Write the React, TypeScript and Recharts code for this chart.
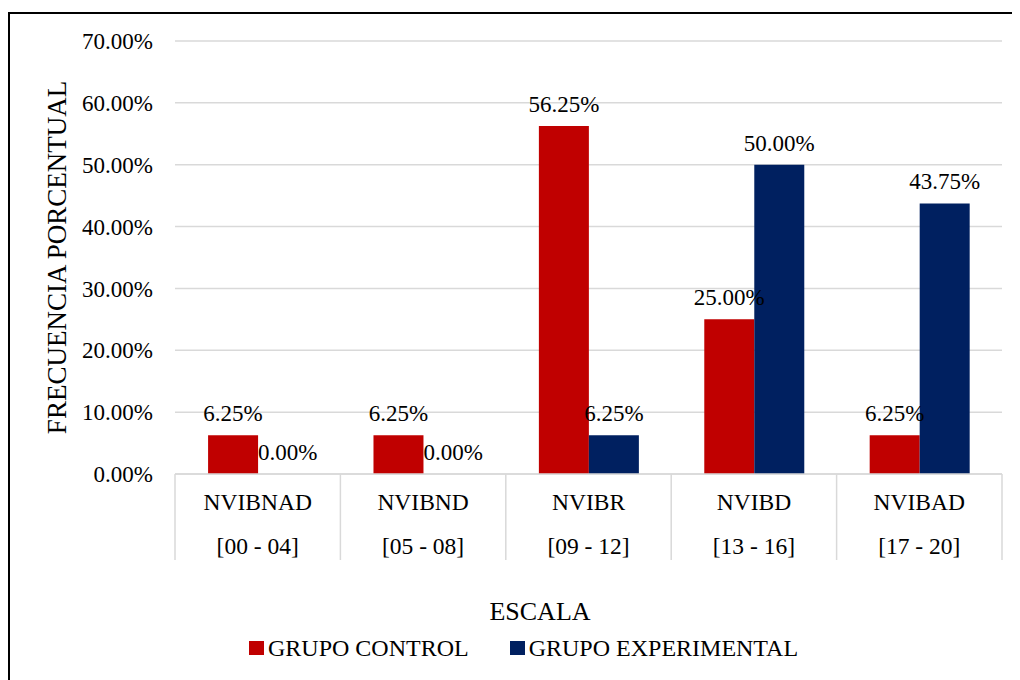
import { BarChart, Bar, XAxis, YAxis, CartesianGrid, Legend, LabelList, ReferenceDot } from "recharts";

const niveles = ["NVIBNAD", "NVIBND", "NVIBR", "NVIBD", "NVIBAD"];
const rangos = ["[00 - 04]", "[05 - 08]", "[09 - 12]", "[13 - 16]", "[17 - 20]"];
const grupoControl = [0.0625, 0.0625, 0.5625, 0.25, 0.0625];
const grupoExperimental = [0, 0, 0.0625, 0.5, 0.4375];
const yTicks = [0, 0.1, 0.2, 0.3, 0.4, 0.5, 0.6, 0.7];

const data = niveles.map((n, i) => ({
  nivel: n,
  rango: rangos[i],
  control: grupoControl[i],
  experimental: grupoExperimental[i],
}));

const FONT = "Liberation Serif, Tinos, DejaVu Serif, serif";
const RED = "#C00000";
const NAVY = "#002060";
const GRID = "#d9d9d9";

const W = 1010;
const H = 666;
const margin = { top: 27, right: 18, left: 0, bottom: 106 };
const Y_AXIS_W = 165;
const band = (W - margin.right - margin.left - Y_AXIS_W) / niveles.length;

const pct = (v: number) => (v * 100).toFixed(2) + "%";
const labelStyle = { fontFamily: FONT, fontSize: 23, fill: "#000" };

function CategoryTick(props: any) {
  const { x, y, payload, index } = props;
  const row = data[index] || { nivel: payload.value, rango: "" };
  return (
    <g>
      <line x1={x - band / 2} y1={y} x2={x - band / 2} y2={y + 86} stroke={GRID} strokeWidth={1.5} />
      {index === niveles.length - 1 && (
        <line x1={x + band / 2} y1={y} x2={x + band / 2} y2={y + 86} stroke={GRID} strokeWidth={1.5} />
      )}
      <text x={x} y={y + 36} textAnchor="middle" fontFamily={FONT} fontSize={23.5} fill="#000">
        {row.nivel}
      </text>
      <text x={x} y={y + 80} textAnchor="middle" fontFamily={FONT} fontSize={23.5} fill="#000">
        {row.rango}
      </text>
    </g>
  );
}

function YTitle(props: any) {
  const vb = props.viewBox || { y: 0, height: 0 };
  const cy = vb.y + vb.height / 2;
  return (
    <text
      x={47}
      y={cy}
      transform={`rotate(-90, 47, ${cy})`}
      textAnchor="middle"
      dominantBaseline="central"
      fontFamily={FONT}
      fontSize={27}
      fill="#000"
    >
      FRECUENCIA PORCENTUAL
    </text>
  );
}

function XTitle() {
  return (
    <text x={530} y={606} textAnchor="middle" fontFamily={FONT} fontSize={26} fill="#000">
      ESCALA
    </text>
  );
}

function LegendBox() {
  const items = [
    { label: "GRUPO CONTROL", color: RED },
    { label: "GRUPO EXPERIMENTAL", color: NAVY },
  ];
  return (
    <div style={{ display: "flex", alignItems: "center", paddingLeft: 239, fontFamily: FONT, fontSize: 24, color: "#000" }}>
      {items.map((it, i) => (
        <div key={it.label} style={{ display: "flex", alignItems: "center", marginRight: i === 0 ? 41 : 0 }}>
          <span style={{ display: "inline-block", width: 15, height: 14, background: it.color, marginRight: 4 }} />
          <span style={{ lineHeight: "24px" }}>{it.label}</span>
        </div>
      ))}
    </div>
  );
}

export default function App() {
  return (
    <div
      style={{
        marginTop: 4,
        width: W,
        height: H,
        borderTop: "2px solid #000",
        borderLeft: "2px solid #000",
        background: "#fff",
      }}
    >
      <BarChart width={W} height={H} data={data} margin={margin} barCategoryGap="20%" barGap={0}>
        <CartesianGrid vertical={false} stroke={GRID} strokeWidth={1.5} />
        <XAxis
          dataKey="nivel"
          height={100}
          axisLine={{ stroke: GRID, strokeWidth: 1.5 }}
          tickLine={false}
          tickSize={0}
          tickMargin={0}
          interval={0}
          tick={<CategoryTick />}
          label={<XTitle />}
        />
        <YAxis
          width={Y_AXIS_W}
          domain={[0, 0.7]}
          ticks={yTicks}
          tickFormatter={pct}
          axisLine={false}
          tickLine={false}
          tickSize={0}
          tickMargin={22}
          tick={{ fontFamily: FONT, fontSize: 23, fill: "#000" }}
          label={<YTitle />}
        />
        <Legend
          verticalAlign="middle"
          align="center"
          content={<LegendBox />}
          wrapperStyle={{ top: 622, left: 0, width: W }}
        />
        <Bar dataKey="control" name="GRUPO CONTROL" fill={RED} isAnimationActive={false}>
          <LabelList dataKey="control" position="top" offset={14} formatter={(v: any) => pct(Number(v))} style={labelStyle} />
        </Bar>
        <Bar dataKey="experimental" name="GRUPO EXPERIMENTAL" fill={NAVY} isAnimationActive={false}>
          <LabelList dataKey="experimental" position="top" offset={14} formatter={(v: any) => pct(Number(v))} style={labelStyle} />
        </Bar>
        {/* zero-height bars get no label from LabelList, so mark them here */}
        {data
          .filter((d) => d.experimental === 0)
          .map((d) => (
            <ReferenceDot
              key={d.nivel}
              x={d.nivel}
              y={d.experimental}
              r={0}
              fill="none"
              stroke="none"
              ifOverflow="visible"
              label={{ value: pct(d.experimental), position: "top", offset: 14, dx: 30, ...labelStyle }}
            />
          ))}
      </BarChart>
    </div>
  );
}
